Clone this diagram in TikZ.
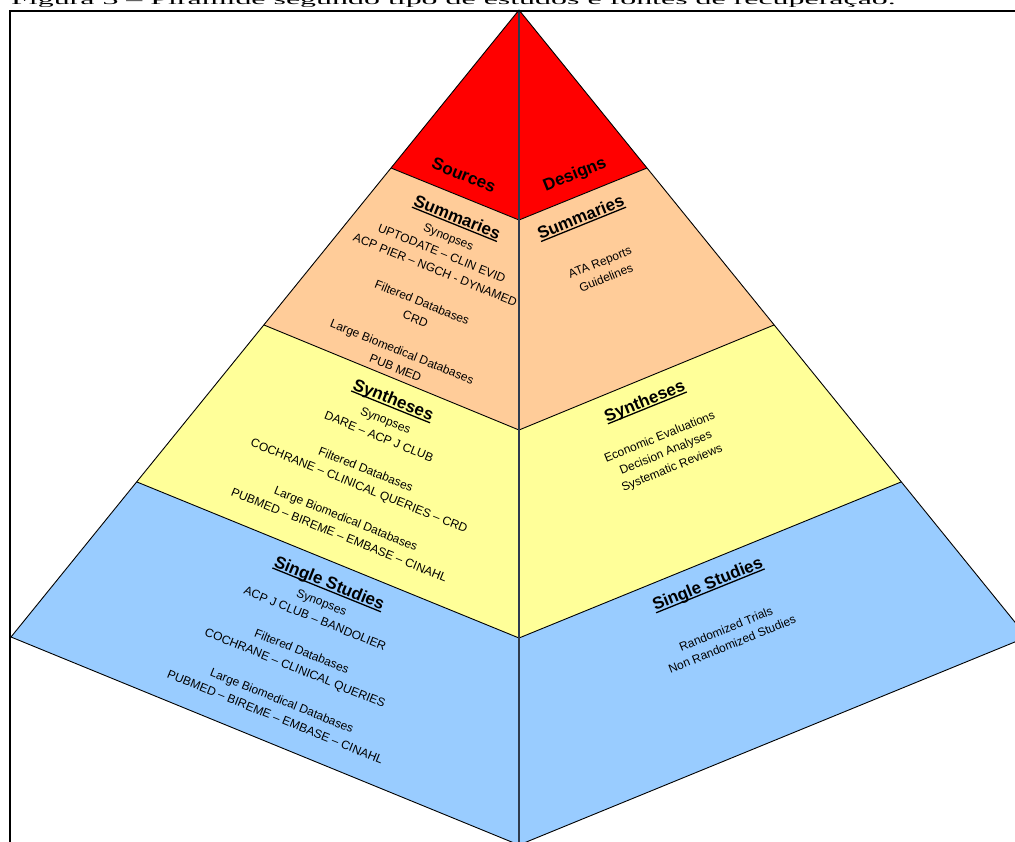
\documentclass[tikz,border=0pt]{standalone}
\usepackage{fontspec}
\setmainfont{Liberation Sans}
\newfontfamily\capfont{Liberation Serif}
\definecolor{pyrred}{HTML}{FF0000}
\definecolor{pyrpeach}{HTML}{FFCC99}
\definecolor{pyryellow}{HTML}{FFFF99}
\definecolor{pyrblue}{HTML}{99CCFF}
\definecolor{axiscol}{HTML}{2E3B4E}
\newcommand\hdul[1]{\setbox0\hbox{#1}\rlap{\rule[-2.6pt]{\wd0}{1.3pt}}\box0}
\tikzset{
  edge/.style={draw=black, line width=0.9pt, line join=round},
  axisline/.style={draw=axiscol, line width=1.6pt},
  frameline/.style={draw=black, line width=2pt},
  hdtext/.style={font=\fontsize{17}{20}\selectfont\bfseries, inner sep=0pt},
  bodyl/.style={font=\fontsize{12}{17.7}\selectfont, align=center, inner sep=0pt, rotate=-22},
  bodyr/.style={font=\fontsize{12}{16.5}\selectfont, align=center, inner sep=0pt, rotate=22},
}
\begin{document}
\begin{tikzpicture}[x=1pt,y=-1pt]
\useasboundingbox (0,0) rectangle (1015,841);
\clip (0,0) rectangle (1015,841);
% pyramid points
\coordinate (A) at (519,10);
\coordinate (L1) at (391,168);
\coordinate (L2) at (264,325);
\coordinate (L3) at (137,482);
\coordinate (L4) at (11,637);
\coordinate (R1) at (647,168);
\coordinate (R2) at (774,325);
\coordinate (R3) at (901,482);
\coordinate (R4) at (1027,637);
\coordinate (C1) at (519,220);
\coordinate (C2) at (519,430);
\coordinate (C3) at (519,638);
\coordinate (C4) at (519,845);
% faces
\fill[pyrred] (A) -- (L1) -- (C1) -- (R1) -- cycle;
\fill[pyrpeach] (L1) -- (L2) -- (C2) -- (R2) -- (R1) -- (C1) -- cycle;
\fill[pyryellow] (L2) -- (L3) -- (C3) -- (R3) -- (R2) -- (C2) -- cycle;
\fill[pyrblue] (L3) -- (L4) -- (C4) -- (R4) -- (R3) -- (C3) -- cycle;
% edges
\draw[edge] (L4) -- (A) -- (R4);
\draw[edge] (L1) -- (C1) -- (R1);
\draw[edge] (L2) -- (C2) -- (R2);
\draw[edge] (L3) -- (C3) -- (R3);
\draw[edge] (L4) -- (C4) -- (R4);
\draw[axisline] (A) -- (C4);
% frame
\coordinate (F0) at (10,11);
\coordinate (F1) at (1030,11);
\coordinate (F2) at (10,860);
\draw[frameline] (F1) -- (F0) -- (F2);
% caption (cut off at top)
\node[anchor=base west, inner sep=0pt] (cap) at (11,4.6)
  {\capfont\fontsize{14}{16}\selectfont\scalebox{2.28}[1]{Figura 3 – Pirâmide segundo tipo de estudos e fontes de recuperação.}};
% top labels
\node[hdtext, rotate=-22] (srcs) at (464,175) {Sources};
\node[hdtext, rotate=22] (dsgn) at (575,175) {Designs};
% left headers
\node[hdtext, rotate=-22] (hsl1) at (457,218) {\hdul{Summaries}};
\node[hdtext, rotate=-22] (hsl2) at (393,401) {\hdul{Syntheses}};
\node[hdtext, rotate=-22] (hsl3) at (329,584) {\hdul{Single Studies}};
% right headers
\node[hdtext, rotate=22] (hsr1) at (581,218) {\hdul{Summaries}};
\node[hdtext, rotate=22] (hsr2) at (645,402) {\hdul{Syntheses}};
\node[hdtext, rotate=22] (hsr3) at (708,585) {\hdul{Single Studies}};
% left bodies
\node[bodyl] (bl1) at (422,302.5) {Synopses\\UPTODATE – CLIN EVID\\ACP PIER – NGCH - DYNAMED\\[17.7pt]Filtered Databases\\CRD\\[17.7pt]Large Biomedical Databases\\PUB MED};
\node[bodyl] (bl2) at (362.5,477.5) {Synopses\\DARE – ACP J CLUB\\[17.7pt]Filtered Databases\\COCHRANE – CLINICAL QUERIES – CRD\\[17.7pt]Large Biomedical Databases\\PUBMED – BIREME – EMBASE – CINAHL};
\node[bodyl] (bl3) at (298.5,659.5) {Synopses\\ACP J CLUB – BANDOLIER\\[17.7pt]Filtered Databases\\COCHRANE – CLINICAL QUERIES\\[17.7pt]Large Biomedical Databases\\PUBMED – BIREME – EMBASE – CINAHL};
% right bodies
\node[bodyr] (br1) at (603,270) {ATA Reports\\Guidelines};
\node[bodyr] (br2) at (666,453) {Economic Evaluations\\Decision Analyses\\Systematic Reviews};
\node[bodyr] (br3) at (729,636.5) {Randomized Trials\\Non Randomized Studies};
\end{tikzpicture}
\end{document}
